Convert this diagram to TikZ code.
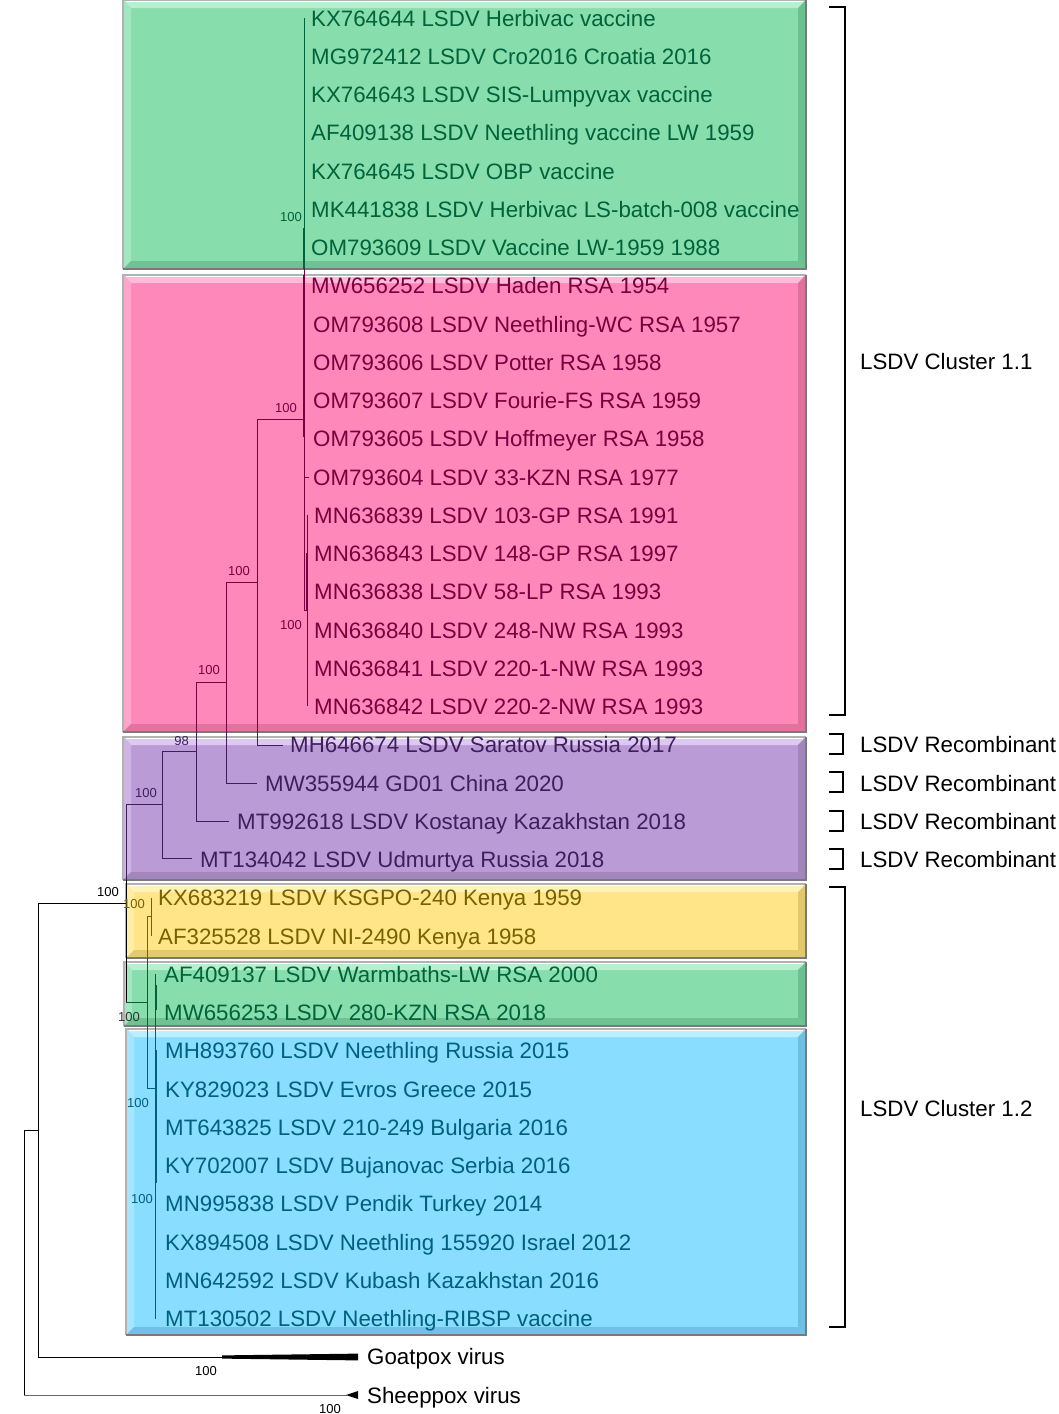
\documentclass[tikz,border=0pt]{standalone}
\usepackage{fontspec}
\setmainfont{Liberation Sans}
\definecolor{gF}{HTML}{87DDAC}\definecolor{gL}{HTML}{B4F1CE}\definecolor{gD}{HTML}{63B487}\definecolor{gT}{HTML}{00633A}
\definecolor{pF}{HTML}{FF88BA}\definecolor{pL}{HTML}{FFBBD8}\definecolor{pD}{HTML}{D06991}\definecolor{pT}{HTML}{78003F}
\definecolor{uF}{HTML}{BB9BD6}\definecolor{uL}{HTML}{DCC8F0}\definecolor{uD}{HTML}{967BB0}\definecolor{uT}{HTML}{3E1F5E}
\definecolor{yF}{HTML}{FFE588}\definecolor{yL}{HTML}{FFF3BC}\definecolor{yD}{HTML}{D4BC63}\definecolor{yT}{HTML}{776100}
\definecolor{bF}{HTML}{89DDFF}\definecolor{bL}{HTML}{BCEEFF}\definecolor{bD}{HTML}{62B4D4}\definecolor{bT}{HTML}{00607E}
\newcommand\bevbox[7]{%
 \fill[#5] (#1,#2) rectangle (#3,#4);
 \fill[#6] (#1,#2) -- (#3,#2) -- (#3-8,#2+8) -- (#1+8,#2+8) -- cycle;
 \fill[#6!55!#5] (#1,#2) -- (#1+8,#2+8) -- (#1+8,#4-8) -- (#1,#4) -- cycle;
 \fill[#7!65!#5] (#1,#4) -- (#1+8,#4-8) -- (#3-8,#4-8) -- (#3,#4) -- cycle;
 \fill[#7!70!#5] (#3,#2) -- (#3,#4) -- (#3-8,#4-8) -- (#3-8,#2+8) -- cycle;
 \draw[white, line width=1] (#1+3,#2+1.5) -- (#3-3,#2+1.5);
 \draw[gray!60, line width=1.5] (#1,#4) -- (#1,#2) -- (#3,#2);
 \draw[gray!95!black, line width=2] (#3,#2) -- (#3,#4) -- (#1,#4);
}
\begin{document}
\begin{tikzpicture}[x=1pt,y=-1pt,
  lab/.style={anchor=base west, inner sep=0pt, font=\fontsize{22.3}{24}\selectfont},
  bs/.style={anchor=base east, inner sep=0pt, font=\fontsize{13}{14}\selectfont},
  br/.style={line width=2pt, black},
  tl/.style={line width=0.9pt}]
\useasboundingbox (0,0) rectangle (1059,1414);
\fill[white] (0,0) rectangle (1059,1414);
% boxes
\bevbox{123}{0}{806}{269}{gF}{gL}{gD}
\bevbox{123}{275}{806}{732}{pF}{pL}{pD}
\bevbox{123}{737}{806}{880}{uF}{uL}{uD}
\bevbox{126}{884}{806}{958}{yF}{yL}{yD}
\bevbox{124}{962}{806}{1026}{gF}{gL}{gD}
\bevbox{126}{1029}{806}{1335}{bF}{bL}{bD}
% tree: cluster 1.1
\draw[tl, gT] (304,18) -- (304,269);
\draw[line width=2pt, gT] (304,228) -- (304,269);
\draw[tl, pT] (304,269) -- (304,610) -- (307,610);
\draw[line width=2pt, pT] (304,275) -- (304,437);
\draw[tl, pT] (304,477) -- (309,477);
\draw[tl, pT] (307,515) -- (307,706);
\draw[line width=1.4pt, pT] (307,553) -- (307,610);
\draw[tl, pT] (257,419) -- (304,419);
\draw[tl, pT] (257,419) -- (257,732);
\draw[tl, uT] (257,732) -- (257,745) -- (283,745);
\draw[tl, pT] (226,582) -- (257,582);
\draw[tl, pT] (226,582) -- (226,732);
\draw[tl, uT] (226,732) -- (226,783) -- (257,783);
\draw[tl, pT] (196,682) -- (226,682);
\draw[tl, pT] (196,682) -- (196,732);
\draw[tl, uT] (196,732) -- (196,821) -- (229,821);
\draw[tl, uT] (162,751) -- (196,751);
\draw[tl, uT] (162,751) -- (162,858) -- (192,858);
\draw[tl, uT] (126,804) -- (162,804);
\draw[tl, uT] (126,804) -- (126,880);
\draw[tl, black] (126,880) -- (126,1002);
\draw[tl, black] (38,903) -- (126,903);
% cluster 1.2
\draw[tl, gT] (126,1002) -- (147,1002);
\draw[tl, yT] (147,916) -- (147,958);
\draw[tl, gT] (147,958) -- (147,1027);
\draw[tl, bT] (147,1027) -- (147,1088) -- (155,1088);
\draw[tl, yT] (147,916) -- (151,916);
\draw[tl, yT] (151,898) -- (151,936);
\draw[tl, gT] (155,974) -- (155,1027);
\draw[line width=1.6pt, gT] (156,985) -- (156,1010);
\draw[tl, bT] (155,1027) -- (155,1319);
\draw[line width=1.4pt, bT] (156,1050) -- (156,1183);
% outgroups and root
\draw[tl, black] (38,903) -- (38,1357) -- (222,1357);
\fill[black] (222,1355.4) -- (358,1353.6) -- (358,1360.4) -- (222,1358.6) -- cycle;
\draw[tl, black] (24,1130) -- (38,1130);
\draw[tl, black] (24,1130) -- (24,1395);
\draw[line width=1pt, gray!80!black] (24,1395) -- (347,1395);
\fill[black] (346,1395) -- (358,1391) -- (358,1399) -- cycle;
% leaf labels
\node[lab, text=gT] (l0) at (311,26) {KX764644 LSDV Herbivac vaccine};
\node[lab, text=gT] (l1) at (311,64.25) {MG972412 LSDV Cro2016 Croatia 2016};
\node[lab, text=gT] (l2) at (311,102.5) {KX764643 LSDV SIS-Lumpyvax vaccine};
\node[lab, text=gT] (l3) at (311,140.75) {AF409138 LSDV Neethling vaccine LW 1959};
\node[lab, text=gT] (l4) at (311,179) {KX764645 LSDV OBP vaccine};
\node[lab, text=gT] (l5) at (311,217.25) {MK441838 LSDV Herbivac LS-batch-008 vaccine};
\node[lab, text=gT] (l6) at (311,255.5) {OM793609 LSDV Vaccine LW-1959 1988};
\node[lab, text=pT] (l7) at (311,293.75) {MW656252 LSDV Haden RSA 1954};
\node[lab, text=pT] (l8) at (313,332) {OM793608 LSDV Neethling-WC RSA 1957};
\node[lab, text=pT] (l9) at (313,370.25) {OM793606 LSDV Potter RSA 1958};
\node[lab, text=pT] (l10) at (313,408.5) {OM793607 LSDV Fourie-FS RSA 1959};
\node[lab, text=pT] (l11) at (313,446.75) {OM793605 LSDV Hoffmeyer RSA 1958};
\node[lab, text=pT] (l12) at (313,485) {OM793604 LSDV 33-KZN RSA 1977};
\node[lab, text=pT] (l13) at (314,523.25) {MN636839 LSDV 103-GP RSA 1991};
\node[lab, text=pT] (l14) at (314,561.5) {MN636843 LSDV 148-GP RSA 1997};
\node[lab, text=pT] (l15) at (314,599.75) {MN636838 LSDV 58-LP RSA 1993};
\node[lab, text=pT] (l16) at (314,638) {MN636840 LSDV 248-NW RSA 1993};
\node[lab, text=pT] (l17) at (314,676.25) {MN636841 LSDV 220-1-NW RSA 1993};
\node[lab, text=pT] (l18) at (314,714.5) {MN636842 LSDV 220-2-NW RSA 1993};
\node[lab, text=uT] (l19) at (290,752.75) {MH646674 LSDV Saratov Russia 2017};
\node[lab, text=uT] (l20) at (265,791) {MW355944 GD01 China 2020};
\node[lab, text=uT] (l21) at (237,829.25) {MT992618 LSDV Kostanay Kazakhstan 2018};
\node[lab, text=uT] (l22) at (200,867.5) {MT134042 LSDV Udmurtya Russia 2018};
\node[lab, text=yT] (l23) at (158,905.75) {KX683219 LSDV KSGPO-240 Kenya 1959};
\node[lab, text=yT] (l24) at (158,944) {AF325528 LSDV NI-2490 Kenya 1958};
\node[lab, text=gT] (l25) at (164,982.25) {AF409137 LSDV Warmbaths-LW RSA 2000};
\node[lab, text=gT] (l26) at (164,1020.5) {MW656253 LSDV 280-KZN RSA 2018};
\node[lab, text=bT] (l27) at (165,1058.75) {MH893760 LSDV Neethling Russia 2015};
\node[lab, text=bT] (l28) at (165,1097) {KY829023 LSDV Evros Greece 2015};
\node[lab, text=bT] (l29) at (165,1135.25) {MT643825 LSDV 210-249 Bulgaria 2016};
\node[lab, text=bT] (l30) at (165,1173.5) {KY702007 LSDV Bujanovac Serbia 2016};
\node[lab, text=bT] (l31) at (165,1211.75) {MN995838 LSDV Pendik Turkey 2014};
\node[lab, text=bT] (l32) at (165,1250) {KX894508 LSDV Neethling 155920 Israel 2012};
\node[lab, text=bT] (l33) at (165,1288.25) {MN642592 LSDV Kubash Kazakhstan 2016};
\node[lab, text=bT] (l34) at (165,1326.5) {MT130502 LSDV Neethling-RIBSP vaccine};
\node[lab, text=black] (l35) at (367,1364.75) {Goatpox virus};
\node[lab, text=black] (l36) at (367,1403) {Sheeppox virus};
% bootstrap values
\node[bs, text=gT] (b1) at (302,221) {100};
\node[bs, text=pT] (b2) at (297,412) {100};
\node[bs, text=pT] (b3) at (250,575) {100};
\node[bs, text=pT] (b4) at (302,629) {100};
\node[bs, text=pT] (b5) at (220,674) {100};
\node[bs, text=uT] (b6) at (189,745) {98};
\node[bs, text=uT] (b7) at (157,797) {100};
\node[bs, text=black] (b8) at (119,896) {100};
\node[bs, text=yT] (b9) at (145,908) {100};
\node[bs, text=black!80] (b10) at (140,1021) {100};
\node[bs, text=bT] (b11) at (149,1107) {100};
\node[bs, text=bT] (b12) at (153,1203) {100};
\node[bs, text=black] (b13) at (217,1375) {100};
\node[bs, text=black] (b14) at (341,1413) {100};
% brackets
\draw[br] (829,7) -- (845,7) -- (845,715) -- (829,715);
\draw[br] (829,734) -- (843,734) -- (843,754) -- (829,754);
\draw[br] (829,772.25) -- (843,772.25) -- (843,792.25) -- (829,792.25);
\draw[br] (829,810.5) -- (843,810.5) -- (843,830.5) -- (829,830.5);
\draw[br] (829,848.75) -- (843,848.75) -- (843,868.75) -- (829,868.75);
\draw[br] (829,887) -- (845,887) -- (845,1327) -- (829,1327);
\node[lab] (c1) at (860,369) {LSDV Cluster 1.1};
\node[lab] (r1) at (860,752.75) {LSDV Recombinant};
\node[lab] (r2) at (860,791) {LSDV Recombinant};
\node[lab] (r3) at (860,829.25) {LSDV Recombinant};
\node[lab] (r4) at (860,867.5) {LSDV Recombinant};
\node[lab] (c2) at (860,1116) {LSDV Cluster 1.2};
\end{tikzpicture}
\end{document}
